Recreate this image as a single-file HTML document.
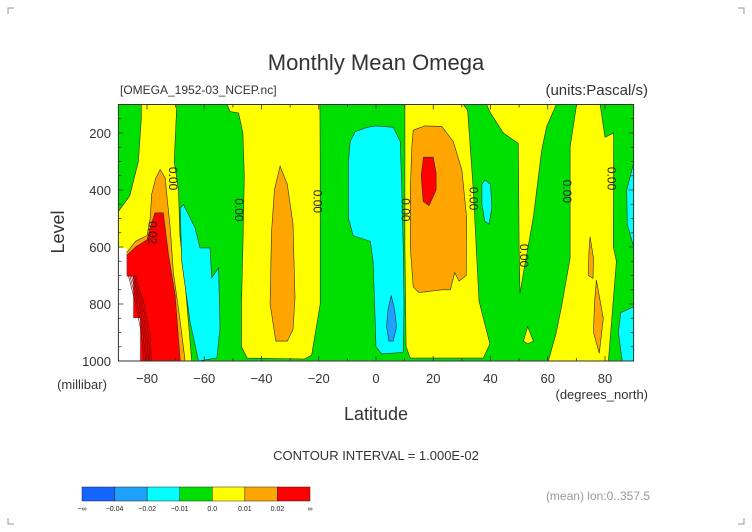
<!DOCTYPE html>
<html><head><meta charset="utf-8"><style>
html,body{margin:0;padding:0;background:#fff;}
svg{display:block;font-family:"Liberation Sans",sans-serif;}
</style></head><body>
<svg id="chart" width="752" height="532" viewBox="0 0 752 532">
<g stroke="#999" stroke-width="1">
<path d="M8 14V8H14M744 14V8H738M8 518V524H14M744 518V524H738" fill="none"/>
</g>
<text x="376" y="70" text-anchor="middle" font-size="22" fill="#333">Monthly Mean Omega</text>
<text x="120" y="94" font-size="12" fill="#333">[OMEGA_1952-03_NCEP.nc]</text>
<text x="648" y="95" text-anchor="end" font-size="15" fill="#333">(units:Pascal/s)</text>
<g id="plot"></g>
<g id="axes"></g>
<text x="0" y="0" transform="translate(64,232) rotate(-90)" text-anchor="middle" font-size="18" fill="#333">Level</text>
<text x="82" y="389" text-anchor="middle" font-size="13" fill="#333">(millibar)</text>
<text x="376" y="420" text-anchor="middle" font-size="18" fill="#333">Latitude</text>
<text x="648" y="399" text-anchor="end" font-size="13" fill="#333">(degrees_north)</text>
<text x="376" y="460" text-anchor="middle" font-size="13" fill="#333">CONTOUR INTERVAL = 1.000E-02</text>
<g id="cbar"></g>
<text x="650" y="500" text-anchor="end" font-size="12" fill="#999">(mean) lon:0..357.5</text>
</svg>
<script>
// ---- data ----
const xTicks = [-80,-60,-40,-20,0,20,40,60,80];
const yTicks = [200,400,600,800,1000];
const legendColors = ["#1464ff","#1ea0ff","#00ffff","#00e000","#ffff00","#ffa500","#ff0000"];
const legendLabels = ["-\u221e","-0.04","-0.02","-0.01","0.0","0.01","0.02","\u221e"];
const fillLevels = ["yellow","yellow","yellow","yellow","orange","orange","orange","red","red","cyan","cyan","cyan","cyan","blue","white"];
const regionNames = ["yellow-band-south-polar","yellow-band-southern-midlat","yellow-band-tropics-north","yellow-band-northern-midlat","orange-south-polar","orange-southern-midlat","orange-tropics-north","red-south-polar","red-tropics-north","cyan-southern-subpolar","cyan-equatorial","cyan-northern-midlat","cyan-north-pole","blue-equatorial","missing-data"];
const regions = [
 [[-82,100],[-69.6,100],[-70.5,300],[-69,400],[-68.5,560],[-66.5,750],[-64.4,1000],[-90,1000],[-90,475],[-86,420],[-83,300],[-82,150]],
 [[-55.6,100],[-52,100],[-51,125],[-48,130],[-46.5,200],[-46,350],[-46.5,600],[-47,800],[-47,950],[-45,990],[-25,993],[-22.5,980],[-19.5,800],[-19.5,500],[-19.5,300],[-19.6,100]],
 [[10.1,100],[30.5,100],[32,120],[34,400],[35,600],[36,790],[39.8,940],[37.5,990],[12,990],[10.5,950],[10.1,600]],
 [[38.6,100],[63,100],[59.6,178],[57.9,260],[55,494],[51.5,692],[50.3,763],[50,600],[49.8,300],[49.7,236],[44.5,200],[40,130]],
 [[-75.4,328],[-73.7,357],[-71.9,533],[-70.8,690],[-68.4,861],[-66.7,1000],[-82.4,1000],[-84.8,849],[-84.8,703],[-87.1,703],[-87.1,620],[-84,580],[-80,560],[-78.9,500],[-78.4,416],[-77,360]],
 [[-33.5,316],[-31,380],[-29,520],[-28.3,780],[-29,890],[-31,930],[-35,930],[-37,800],[-36.5,550],[-35.5,400]],
 [[13,190],[17,175],[23,177],[27,230],[30,330],[31.7,500],[31.5,700],[29,720],[27.5,690],[26,750],[23,750],[15,760],[13,740],[12,600],[12,400],[12.5,250]],
 [[-77.2,480],[-74.3,480],[-72.5,627],[-70.2,767],[-68.4,1000],[-82.4,1000],[-82.4,849],[-84.8,849],[-84.8,703],[-87.1,703],[-87.1,630],[-84,600],[-80,575],[-78.5,520]],
 [[16.6,285],[20,285],[21,340],[21,400],[18.5,455],[16.5,440],[15.8,350]],
 [[-67.3,451],[-63.2,533],[-61.5,603],[-58,603],[-57.4,708],[-55,673],[-54.5,884],[-55.6,989],[-62,1000],[-65,861],[-67.9,650],[-68.4,463]],
 [[-7.3,195],[-3,180],[0,175],[6,180],[8.5,230],[9,400],[9.5,600],[9.8,800],[9.5,970],[2,975],[0,950],[-0.5,800],[-1,650],[-2,580],[-5,570],[-8,560],[-9.6,500],[-9.6,300],[-9,230]],
 [[38,365],[40,380],[40.5,460],[39.5,520],[38,510],[37,450],[37,380]],
 [[90,306],[87.6,400],[87.8,520],[90,599]],
 [[5.3,770],[6.5,820],[7.2,880],[6,930],[4.5,930],[3.7,880],[4.2,820]],
 [[-90,603],[-87.1,603],[-87.1,703],[-84.8,703],[-84.8,849],[-82.4,849],[-82.4,1000],[-90,1000]]
];
const yellow4 = [[70.1,100],[78.3,100],[80,215],[83,200],[82.9,600],[84,650],[81.2,1000],[60.2,1000],[63,900],[65,800],[67.8,640],[67.8,250]];
const orange4a = [[74.8,564],[76,640],[75.8,710],[74.2,700],[74.4,620]];
const orange4b = [[77,716],[79.4,850],[78,973],[76,900],[76.3,800]];
const cyan4b = [[90,810],[85.5,830],[84.7,900],[86,1000],[90,1000]];
const yellowBump = [[53,880],[55,930],[53,940],[51.5,930]];
const labelText = ["0.00","0.00","0.00","0.02","0.00","0.00","0.00","0.00","0.00"];
const labelLat = [-71,-47.8,-20.5,-78,10.3,34,51.7,66.8,82.2];
const labelLev = [360,470,440,550,470,430,630,405,360];

// ---- axes ----
const X0=118.4, X1=633.6, Y0=104.5, Y1=361;
const xs = lat => X0 + (lat+90)/180*(X1-X0);
const ys = lev => Y0 + (lev-100)/900*(Y1-Y0);
const NS="http://www.w3.org/2000/svg";
const colorMap={yellow:"#ffff00",orange:"#ffa500",red:"#ff0000",cyan:"#00ffff",blue:"#1ea0ff",white:"#ffffff",green:"#00e000"};
const plot=document.getElementById('plot');
function poly(pts,fill,name,stroke){
  const p=document.createElementNS(NS,'polygon');
  p.setAttribute('points',pts.map(d=>xs(d[0]).toFixed(1)+','+ys(d[1]).toFixed(1)).join(' '));
  p.setAttribute('fill',fill);
  p.setAttribute('stroke',stroke||'#2a2a2a');
  p.setAttribute('stroke-width','0.6');
  
  
  plot.appendChild(p);
}
const bg=document.createElementNS(NS,'rect');
bg.setAttribute('x',X0);bg.setAttribute('y',Y0);bg.setAttribute('width',X1-X0);bg.setAttribute('height',Y1-Y0);bg.setAttribute('fill','#00e000');


plot.appendChild(bg);
const order=[0,1,2,3,9,10,11,12,4,5,6,7,8,13,14];
order.forEach(i=>poly(regions[i],colorMap[fillLevels[i]],regionNames[i],fillLevels[i]==='white'?'none':null));
poly(yellow4,colorMap.yellow,'yellow-band-north-polar');
poly(yellowBump,colorMap.yellow,'yellow-bump-north');
poly(orange4a,colorMap.orange,'orange-north-polar-a');
poly(orange4b,colorMap.orange,'orange-north-polar-b');
poly(cyan4b,colorMap.cyan,'cyan-north-pole-low');
// dense red contours near south pole
for(let k=0;k<6;k++){
  const l=document.createElementNS(NS,'polyline');
  const d=[[-86.5+k*0.5,700],[-84+k*0.6,800],[-82+k*0.6,900],[-81+k*0.5,1000]];
  l.setAttribute('points',d.map(q=>xs(q[0]).toFixed(1)+','+ys(q[1]).toFixed(1)).join(' '));
  l.setAttribute('fill','none');l.setAttribute('stroke','#600');l.setAttribute('stroke-width','0.6');
  
  
  plot.appendChild(l);
}
labelText.forEach((t,i)=>{
  const e=document.createElementNS(NS,'text');
  const x=xs(labelLat[i]),y=ys(labelLev[i]);
  e.setAttribute('transform','translate('+x.toFixed(1)+','+y.toFixed(1)+') rotate(90)');
  e.setAttribute('text-anchor','middle');e.setAttribute('font-size','12');e.setAttribute('fill','#222');e.setAttribute('dy','4');
  e.textContent=t;
  
  
  plot.appendChild(e);
});
// frame and ticks
const axes=document.getElementById('axes');
const fr=document.createElementNS(NS,'rect');
fr.setAttribute('x',X0);fr.setAttribute('y',Y0);fr.setAttribute('width',X1-X0);fr.setAttribute('height',Y1-Y0);
fr.setAttribute('fill','none');fr.setAttribute('stroke','#333');fr.setAttribute('stroke-width','1');


axes.appendChild(fr);
let tk='';
for(let la=-90;la<=90;la+=10){const x=xs(la);const L=(la%20===0)?5:3;tk+=`M${x} ${Y1}v${-L}M${x} ${Y0}v${L}`;}
for(let lv=100;lv<=1000;lv+=50){const y=ys(lv);const L=(lv%200===0)?5:3;tk+=`M${X0} ${y}h${L}M${X1} ${y}h${-L}`;}
const tp=document.createElementNS(NS,'path');tp.setAttribute('d',tk);tp.setAttribute('stroke','#333');tp.setAttribute('stroke-width','0.8');


axes.appendChild(tp);
xTicks.forEach(v=>{
  const e=document.createElementNS(NS,'text');
  e.setAttribute('x',xs(v));e.setAttribute('y',383);e.setAttribute('text-anchor','middle');e.setAttribute('font-size','13');e.setAttribute('fill','#333');
  e.textContent=v<0?'\u2212'+(-v):String(v);
  
  
  axes.appendChild(e);
});
yTicks.forEach(v=>{
  const e=document.createElementNS(NS,'text');
  e.setAttribute('x',111);e.setAttribute('y',ys(v)+5);e.setAttribute('text-anchor','end');e.setAttribute('font-size','13');e.setAttribute('fill','#333');
  e.textContent=String(v);
  
  
  axes.appendChild(e);
});
// colour legend
const cb=document.getElementById('cbar');
const CB0=82,CBW=(310-82)/legendColors.length;
legendColors.forEach((c,i)=>{
  const r=document.createElementNS(NS,'rect');
  r.setAttribute('x',CB0+i*CBW);r.setAttribute('y',487);r.setAttribute('width',CBW);r.setAttribute('height',14);
  r.setAttribute('fill',c);r.setAttribute('stroke','#222');r.setAttribute('stroke-width','0.5');
  
  
  cb.appendChild(r);
});
legendLabels.forEach((t,i)=>{
  const e=document.createElementNS(NS,'text');
  e.setAttribute('x',CB0+i*CBW);e.setAttribute('y',511);e.setAttribute('text-anchor','middle');e.setAttribute('font-size','7');e.setAttribute('fill','#222');
  e.textContent=t.replace('-','\u2212');
  
  
  cb.appendChild(e);
});
</script>
</body></html>
